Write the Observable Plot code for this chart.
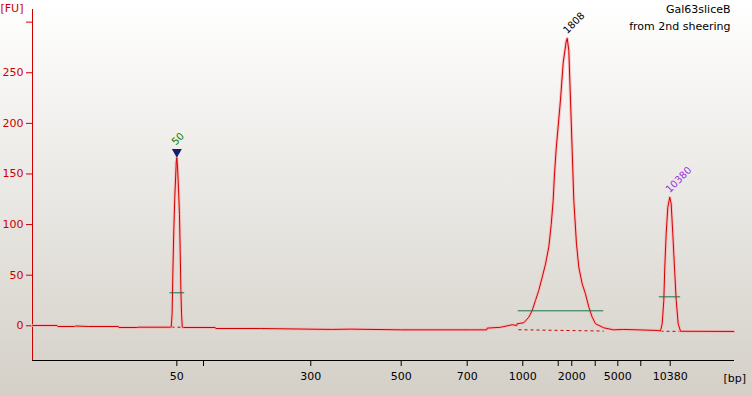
<!DOCTYPE html>
<html>
<head>
<meta charset="utf-8">
<script src="https://cdn.jsdelivr.net/npm/d3@7"></script>
<script src="https://cdn.jsdelivr.net/npm/@observablehq/plot@0.6"></script>
<style>
  html, body { margin: 0; padding: 0; background: #d4d0c8; }
  #chart { width: 752px; height: 396px; }
</style>
</head>
<body>
<div id="chart"></div>
<script>
// Migration time (s) and fluorescence (FU) of the electropherogram trace
const traceTime = [
  20.00, 23.50, 23.60, 26.00, 26.10, 28.00, 32.25, 32.30, 34.95, 35.00, 39.66,
  39.76, 39.89, 39.99, 40.13, 40.27, 40.41, 40.48, 40.56, 40.66, 40.80, 40.94, 41.04, 41.14, 41.23, 41.34,
  41.50, 46.03, 46.10, 52.48, 62.59, 65.30, 72.42, 82.39, 84.70, 84.77, 86.67, 88.33, 89.00, 89.04,
  89.99, 90.70, 91.18, 91.65, 92.12, 92.61, 93.08, 93.55, 93.89, 94.17, 94.36, 94.60, 95.21, 95.60,
  96.03, 96.17, 96.40, 96.64, 96.88, 97.11, 97.49, 97.82, 98.30, 98.77, 99.25, 99.73, 100.20,
  101.38, 102.76, 104.23, 108.99, 109.46,
  109.70, 109.93, 110.07, 110.27, 110.50, 110.78, 110.98, 111.21, 111.45, 111.70, 111.98, 112.31, 119.90
];
const traceFU = [
  0.3, 0.3, -0.7, -0.7, -0.2, -0.7, -0.7, -1.7, -1.7, -1.4, -1.4,
  -1.2, 12, 51, 94, 127, 150, 162, 166, 157, 135, 110, 74, 35, 12, -1.4,
  -1.7, -1.7, -2.7, -2.7, -3.6, -3.3, -4.0, -4.0, -4.0, -2.3, -1.5, 1.0, 0.3, 2.0,
  3.0, 8.5, 15, 25, 35, 48, 61, 78, 100, 124, 150, 175, 223, 260,
  281, 284, 272, 223, 173, 124, 81, 58, 41.5, 31.6, 18.4, 8.5, 2.0,
  -2.0, -4.0, -3.6, -4.6, -5.0,
  2, 25, 58, 91, 117, 127, 120.5, 91, 58, 25, 2, -5.4, -5.6
];

// Peak annotations
const peakLabels = ["50", "1808", "10380"];
const peakTime = [40.56, 96.17, 110.78];
const peakFU = [166, 284, 127];
const peakColors = ["#008000", "#000000", "#9933dd"];

// Peak width bars (green) and dashed peak baselines
const barStart = [39.52, 89.13, 109.22];
const barEnd = [41.61, 101.30, 112.26];
const barFU = [32.6, 14.8, 28.6];
const baseStart = [39.80, 89.23, 109.46];
const baseEnd = [41.23, 101.38, 112.31];
const baseStartFU = [-1.4, -3.9, -5.4];
const baseEndFU = [-1.4, -5.2, -5.5];

// Axis ticks
const yTicks = [0, 50, 100, 150, 200, 250, 300];
const yTickLabels = ["0", "50", "100", "150", "200", "250", ""];
const xTickPos = [40.56, 44.36, 59.64, 72.52, 81.92, 89.84, 94.89, 96.82, 100.16, 103.38, 106.65, 110.84];
const xTickLabels = ["50", "", "300", "500", "700", "1000", "", "2000", "", "5000", "", "10380"];

const sampleName = "Gal63sliceB";
const sampleNote = "from 2nd sheering";

const red = "#cc0000";
const trace = traceTime.map((t, i) => ({t, fu: traceFU[i]}));
const peaks = peakLabels.map((label, i) => ({label, t: peakTime[i], fu: peakFU[i], color: peakColors[i]}));
const bars = barStart.map((s, i) => ({x1: s, x2: barEnd[i], y: barFU[i]}));
const bases = baseStart.map((s, i) => ({x1: s, x2: baseEnd[i], y1: baseStartFU[i], y2: baseEndFU[i]}));
const xLabelMap = new Map(xTickPos.map((p, i) => [p, xTickLabels[i]]));
const yLabelMap = new Map(yTicks.map((p, i) => [p, yTickLabels[i]]));

const xDomain = [20, 120];
const yDomain = [-34.3, 312.5];

const chart = Plot.plot({
  width: 752,
  height: 396,
  marginLeft: 32,
  marginRight: 18,
  marginTop: 9,
  marginBottom: 36,
  style: {
    background: "linear-gradient(#ffffff 0%, #f4f3f1 25%, #d4d0c8 100%)",
    fontFamily: "DejaVu Sans, sans-serif",
    fontSize: "11px",
    overflow: "visible"
  },
  x: {domain: xDomain},
  y: {domain: yDomain},
  marks: [
    Plot.axisY({ticks: yTicks, tickSize: 6, tickPadding: 3, tickFormat: d => yLabelMap.get(d), color: red, label: null}),
    Plot.axisX({ticks: xTickPos, tickSize: 6, tickPadding: 6, tickFormat: d => xLabelMap.get(d), color: "black", label: null}),
    Plot.ruleX([xDomain[0]], {stroke: red}),
    Plot.ruleY([yDomain[0]], {stroke: "black"}),
    // dashed peak baselines
    Plot.link(bases, {x1: "x1", x2: "x2", y1: "y1", y2: "y2", stroke: red, strokeDasharray: "3,3", strokeWidth: 1}),
    // trace with soft halo
    Plot.line(trace, {x: "t", y: "fu", stroke: "#f4b4b4", strokeWidth: 3, strokeOpacity: 0.8}),
    Plot.line(trace, {x: "t", y: "fu", stroke: "#d40000", strokeWidth: 1}),
    // peak width bars
    Plot.link(bars, {x1: "x1", x2: "x2", y1: "y", y2: "y", stroke: "#1f6f4f", strokeWidth: 1}),
    // marker triangle on lower marker
    Plot.dot(peaks.slice(0, 1), {x: "t", y: "fu", symbol: "triangle", rotate: 180, r: 3.7, fill: "#1a1a70", stroke: "none", dy: -5.8}),
    // peak labels
    Plot.text(peaks.slice(0, 1), {x: "t", y: "fu", text: "label", fill: "color", rotate: -45, textAnchor: "start", lineAnchor: "bottom", fontSize: 10, dy: -12, dx: -1}),
    Plot.text(peaks.slice(1), {x: "t", y: "fu", text: "label", fill: "color", rotate: -45, textAnchor: "start", lineAnchor: "bottom", fontSize: 10, dy: -4, dx: 0}),
    // unit labels
    Plot.text(["[FU]"], {frameAnchor: "top-left", dx: -32, dy: -1, textAnchor: "start", lineAnchor: "middle", fill: red}),
    Plot.text(["[bp]"], {frameAnchor: "bottom-right", dx: -11, dy: 18, textAnchor: "start", lineAnchor: "middle", fill: "black"}),
    // sample name
    Plot.text([sampleName], {frameAnchor: "top-right", dx: -4, dy: 0, textAnchor: "end", lineAnchor: "middle", fill: "black"}),
    Plot.text([sampleNote], {frameAnchor: "top-right", dx: -4, dy: 16.5, textAnchor: "end", lineAnchor: "middle", fill: "black"})
  ]
});
document.getElementById("chart").appendChild(chart);
</script>
</body>
</html>
